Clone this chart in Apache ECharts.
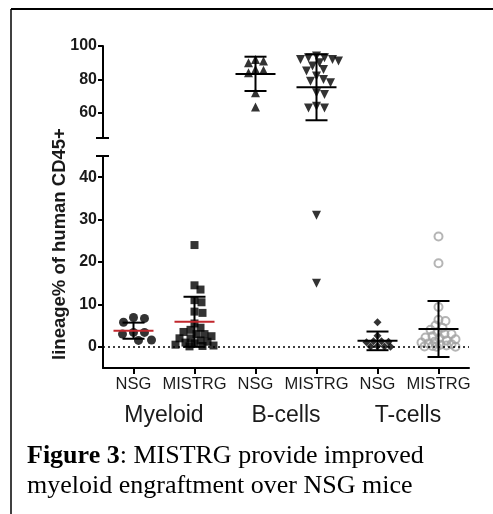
<!DOCTYPE html>
<html><head><meta charset="utf-8">
<script src="https://cdn.jsdelivr.net/npm/echarts@6/dist/echarts.min.js"></script>
<style>html,body{margin:0;padding:0;background:#fff}#c{width:493px;height:514px}</style>
</head><body><div id="c"></div>
<script>
// ---- data ----
const strainLabels = ['NSG', 'MISTRG', 'NSG', 'MISTRG', 'NSG', 'MISTRG'];
const lineageLabels = ['Myeloid', 'B-cells', 'T-cells'];
const myeloidNSG = [6.9, 6.7, 5.8, 3.4, 3.0, 3.4, 1.5, 1.6];
const myeloidMISTRG = [24, 14.5, 13.5, 11, 10.5, 8.3, 8, 5.5, 4.5, 4, 3.5, 3, 3, 2.5, 2, 2, 1.5, 1.2, 1, 0.8, 0.5, 0.3, 0.2, 0.1];
const bcellNSG = [92, 91, 90, 86, 85.5, 84, 72, 63.5];
const bcellMISTRG = [94, 93, 93, 92, 92, 91, 90, 88, 86, 85, 82, 80, 79, 78, 72, 71, 64, 63, 63, 31, 15];
const tcellNSG = [5.8, 2.6, 1.3, 1.3, 1.2, 1.1, 0.2, 0.1, 0.1, 0.0];
const tcellMISTRG = [26, 19.7, 9.4, 6.4, 6.1, 5, 4.5, 4, 3.5, 3, 3, 2.5, 2.2, 2, 1.8, 1.5, 1.2, 1, 0.8, 0.6, 0.5, 0.3, 0.2, 0.1, 0, 0];
const groupMeans = [3.8, 5.9, 83.3, 75.3, 1.4, 4.2];
const groupErrLow = [1.9, 0.0, 73.1, 55.6, -0.8, -2.4];
const groupErrHigh = [5.7, 11.8, 93.6, 95.0, 3.6, 10.8];
const upperTicks = [60, 80, 100];
const lowerTicks = [0, 10, 20, 30, 40];
const breakValue = 45;

// ---- layout ----
const G = { left: 103, width: 366, upTop: 46, upH: 92, loTop: 156, loH: 212 };
const upMin = 45, upMax = 100, loMin = -5, loMax = 45;
const catPx = G.width / 6;
const groups = [myeloidNSG, myeloidMISTRG, bcellNSG, bcellMISTRG, tcellNSG, tcellMISTRG];
const styles = [
  { symbol: 'circle', size: 9, color: '#000', gap: 1.15, maxW: 18 },
  { symbol: 'rect', size: 8, color: '#000', gap: 0.9, maxW: 19 },
  { symbol: 'triangle', size: 9, color: '#000', gap: 0.85, maxW: 16 },
  { symbol: 'triangle', size: 9, color: '#000', rotate: 180, gap: 0.85, maxW: 22 },
  { symbol: 'diamond', size: 8, color: '#000', gap: 0.8, maxW: 13 },
  { symbol: 'circle', size: 8, color: 'rgba(0,0,0,0)', stroke: '#a3a3a3', gap: 0.8, maxW: 17 }
];

function yPx(v) {
  return v >= breakValue ? (upMax - v) * G.upH / (upMax - upMin) : 1000 + (loMax - v) * G.loH / (loMax - loMin);
}
// beeswarm layout (pixel-based), width-limited: overlaps allowed once the band is full
function swarm(vals, d, maxW) {
  const order = vals.map((v, i) => i).sort((a, b) => vals[b] - vals[a]);
  const placed = [];
  const off = new Array(vals.length).fill(0);
  order.forEach(i => {
    const y = yPx(vals[i]);
    let chosen = null, best = -1, bestX = 0;
    for (let k = 0; k <= 2 * maxW; k++) {
      const cand = k === 0 ? 0 : (k % 2 ? 1 : -1) * Math.ceil(k / 2);
      let md = Infinity;
      placed.forEach(p => { md = Math.min(md, Math.hypot(p.x - cand, p.y - y)); });
      if (md >= d) { chosen = cand; break; }
      if (md > best + 0.01) { best = md; bestX = cand; }
    }
    if (chosen === null) chosen = bestX;
    placed.push({ x: chosen, y });
    off[i] = chosen;
  });
  return off;
}

const series = [];
groups.forEach((vals, g) => {
  const st = styles[g];
  const offs = swarm(vals, st.size * st.gap, st.maxW);
  const up = [], lo = [];
  vals.forEach((v, i) => {
    const pt = [g + offs[i] / catPx, v];
    (v >= breakValue ? up : lo).push(pt);
  });
  const base = {
    type: 'scatter', symbol: st.symbol, symbolSize: st.size, symbolRotate: st.rotate || 0,
    itemStyle: st.stroke ? { color: st.color, borderColor: st.stroke, borderWidth: 2 } : { color: st.color },
    silent: true, z: 3
  };
  if (up.length) series.push(Object.assign({}, base, { xAxisIndex: 0, yAxisIndex: 0, data: up }));
  if (lo.length) series.push(Object.assign({}, base, { xAxisIndex: 1, yAxisIndex: 1, data: lo }));
});
// dotted zero line
series.push({
  type: 'scatter', xAxisIndex: 1, yAxisIndex: 1, data: [], silent: true,
  markLine: { silent: true, symbol: 'none', label: { show: false }, animation: false,
    lineStyle: { type: [2, 3], color: '#000', width: 1.5 }, data: [{ yAxis: 0 }] }
});
// error bars (mean ± SD)
function renderErr(params, api) {
  const x = api.value(0), m = api.value(1), lo = api.value(2), hi = api.value(3), red = api.value(4);
  const pm = api.coord([x, m]), pl = api.coord([x, lo]), ph = api.coord([x, hi]);
  const cap = 11, mw = 20, s = { stroke: '#000', lineWidth: 2 };
  return { type: 'group', children: [
    { type: 'line', shape: { x1: pm[0], y1: ph[1], x2: pm[0], y2: pl[1] }, style: s },
    { type: 'line', shape: { x1: pm[0] - cap, y1: ph[1], x2: pm[0] + cap, y2: ph[1] }, style: s },
    { type: 'line', shape: { x1: pm[0] - cap, y1: pl[1], x2: pm[0] + cap, y2: pl[1] }, style: s },
    { type: 'line', shape: { x1: pm[0] - mw, y1: pm[1], x2: pm[0] + mw, y2: pm[1] },
      style: { stroke: red ? '#c1272d' : '#000', lineWidth: 2 } }
  ] };
}
const errUp = [], errLo = [];
groupMeans.forEach((m, g) => {
  const row = [g, m, groupErrLow[g], groupErrHigh[g], g < 2 ? 1 : 0];
  (m >= breakValue ? errUp : errLo).push(row);
});
series.push({ type: 'custom', xAxisIndex: 0, yAxisIndex: 0, data: errUp, renderItem: renderErr, z: 5, silent: true });
series.push({ type: 'custom', xAxisIndex: 1, yAxisIndex: 1, data: errLo, renderItem: renderErr, z: 5, silent: true });

const axisTxt = { color: '#1a1a1a', fontFamily: 'Liberation Sans', fontWeight: 'bold', fontSize: 16 };
const lineSt = { color: '#000', width: 2 };

const option = {
  animation: false,
  backgroundColor: '#fff',
  grid: [
    { left: G.left, width: G.width, top: G.upTop, height: G.upH },
    { left: G.left, width: G.width, top: G.loTop, height: G.loH }
  ],
  xAxis: [
    { gridIndex: 0, type: 'value', min: -0.5, max: 5.5, show: false },
    { gridIndex: 1, type: 'value', min: -0.5, max: 5.5, splitLine: { show: false },
      axisLine: { onZero: false, lineStyle: lineSt },
      axisTick: { customValues: [0, 1, 2, 3, 4, 5], length: 6, lineStyle: lineSt },
      axisLabel: { customValues: [0, 1, 2, 3, 4, 5], formatter: v => strainLabels[Math.round(v)],
        color: '#1a1a1a', fontFamily: 'Liberation Sans', fontSize: 16.5, margin: 8 } },
    { gridIndex: 1, type: 'value', min: -0.5, max: 5.5, position: 'bottom', offset: 30,
      splitLine: { show: false }, axisLine: { show: false }, axisTick: { show: false },
      axisLabel: { customValues: [0.5, 2.5, 4.5], formatter: v => lineageLabels[Math.round((v - 0.5) / 2)],
        color: '#1a1a1a', fontFamily: 'Liberation Sans', fontSize: 23, margin: 6 } }
  ],
  yAxis: [
    { gridIndex: 0, type: 'value', min: upMin, max: upMax, splitLine: { show: false },
      axisLine: { show: true, onZero: false, lineStyle: lineSt },
      axisTick: { show: true, customValues: upperTicks, length: 5, lineStyle: lineSt },
      axisLabel: Object.assign({ customValues: upperTicks, margin: 6 }, axisTxt) },
    { gridIndex: 1, type: 'value', min: loMin, max: loMax, splitLine: { show: false },
      axisLine: { show: true, onZero: false, lineStyle: lineSt },
      axisTick: { show: true, customValues: lowerTicks, length: 5, lineStyle: lineSt },
      axisLabel: Object.assign({ customValues: lowerTicks, margin: 6 }, axisTxt) }
  ],
  graphic: [
    { type: 'line', id: 'bt', shape: { x1: 11, y1: 9, x2: 493, y2: 9 }, style: { stroke: '#000', lineWidth: 2 } },
    { type: 'line', id: 'bl', shape: { x1: 11, y1: 9, x2: 11, y2: 514 }, style: { stroke: '#000', lineWidth: 1.5 } },
    { type: 'text', id: 'yname', x: 60, y: 244, rotation: Math.PI / 2,
      style: { text: 'lineage% of human CD45+', fill: '#1a1a1a', fontFamily: 'Liberation Sans',
        fontWeight: 'bold', fontSize: 18.5, align: 'center', verticalAlign: 'middle' } },
    { type: 'text', id: 'cap', x: 27, y: 441,
      style: { text: '{b|Figure 3}: MISTRG provide improved\nmyeloid engraftment over NSG mice',
        fill: '#000', fontFamily: 'Liberation Serif', fontSize: 26, lineHeight: 30,
        rich: { b: { fontWeight: 'bold', fontFamily: 'Liberation Serif', fontSize: 26, lineHeight: 30 } } } }
  ],
  series: series
};

const chart = echarts.init(document.getElementById('c'), null, { renderer: 'canvas' });
chart.setOption(option);
const pU = chart.convertToPixel({ xAxisIndex: 0, yAxisIndex: 0 }, [-0.5, breakValue]);
const pL = chart.convertToPixel({ xAxisIndex: 1, yAxisIndex: 1 }, [-0.5, breakValue]);
chart.setOption({ graphic: [
  { type: 'line', id: 'capU', shape: { x1: pU[0] - 7, y1: pU[1], x2: pU[0] + 6, y2: pU[1] }, style: { stroke: '#000', lineWidth: 2 } },
  { type: 'line', id: 'capL', shape: { x1: pL[0] - 7, y1: pL[1], x2: pL[0] + 6, y2: pL[1] }, style: { stroke: '#000', lineWidth: 2 } }
] });
</script>
</body></html>
